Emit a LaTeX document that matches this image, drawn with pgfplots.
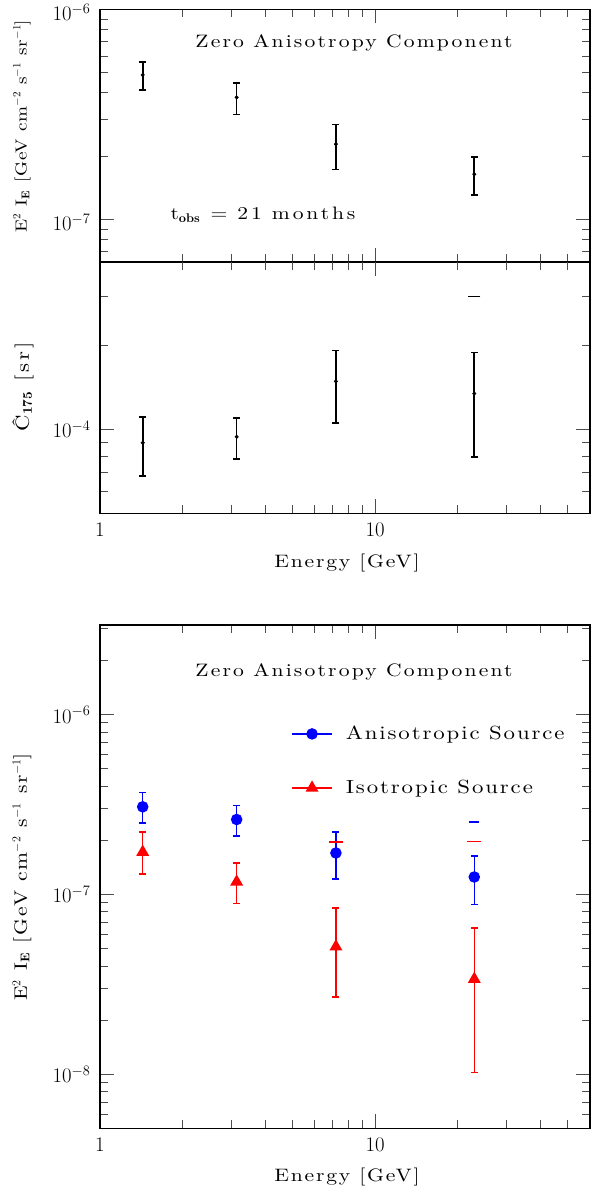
\documentclass[border=0pt]{standalone}
\usepackage{fontspec}
\setmainfont{lmroman10-regular.otf}[BoldFont=lmroman10-bold.otf, ItalicFont=lmroman10-italic.otf]
\usepackage{pgfplots}
\pgfplotsset{compat=1.18}
\newcommand\fs[2]{\fontsize{#1}{#1}\selectfont\addfontfeatures{FakeStretch=1.2, LetterSpace=#2}}

\pgfplotsset{
  every axis/.append style={
    scale only axis, width=490pt, anchor=south west,
    xmin=1, xmax=60.5,
    clip=false,
    axis line style={line width=1.3pt},
    tick style={line width=0.8pt, black!70},
    major tick length=14pt, minor tick length=8pt,
    tick align=inside,
    xtick={1,10},
    minor xtick={2,3,4,5,6,7,8,9,20,30,40,50,60},
    ticklabel style={font=\fontsize{20}{20}\selectfont},
    xticklabel style={yshift=-6pt},
    yticklabel style={xshift=-6pt},
  },
}

\begin{document}
\begin{tikzpicture}
\useasboundingbox (0,0) rectangle (593pt,-1194pt);

% top: intensity
\begin{loglogaxis}[at={(100pt,-262pt)}, height=252.7pt,
  ymin=6.26e-8, ymax=1e-6,
  ytick={1e-7,1e-6},
  minor ytick={7e-8,8e-8,9e-8,2e-7,3e-7,4e-7,5e-7,6e-7,7e-7,8e-7,9e-7},
  xticklabels={,,},
  yticklabel style={yshift=-3pt},
]
\addplot[black, only marks, mark=*, mark size=1.8pt,
  error bars/y dir=both, error bars/y explicit,
  error bars/error bar style={line width=1.6pt},
  error bars/error mark options={rotate=90, mark size=3.5pt, line width=1.6pt}]
coordinates {
  (1.43,4.87e-7) +- (0,0.75e-7)
  (3.14,3.81e-7) +- (0,0.65e-7)
  (7.21,2.28e-7) +- (0,0.55e-7)
  (22.96,1.64e-7) +- (0,0.335e-7)
};
\end{loglogaxis}

% middle: C_175
\begin{loglogaxis}[at={(100pt,-513.3pt)}, height=251.6pt,
  ymin=5e-5, ymax=4e-4,
  ytick={1e-4},
  minor ytick={6e-5,7e-5,8e-5,9e-5,2e-4,3e-4},
  xticklabels={$1$,$10$},
]
\addplot[black, only marks, mark=*, mark size=1.8pt,
  error bars/y dir=both, error bars/y explicit,
  error bars/error bar style={line width=1.6pt},
  error bars/error mark options={rotate=90, mark size=3.5pt, line width=1.6pt}]
coordinates {
  (1.43,8.96e-5) +- (0,2.15e-5)
  (3.14,9.41e-5) +- (0,1.56e-5)
  (7.21,1.488e-4) +- (0,4.32e-5)
  (22.96,1.345e-4) +- (0,5.47e-5)
};
\addplot[black, only marks, mark=-, mark size=6pt, mark options={line width=1.6pt}]
  coordinates {(22.96,3e-4)};
\end{loglogaxis}

% bottom: two sources
\begin{loglogaxis}[at={(100pt,-1128.3pt)}, height=503.3pt,
  ymin=5e-9, ymax=3.15e-6,
  ytick={1e-8,1e-7,1e-6},
  minor ytick={6e-9,7e-9,8e-9,9e-9,2e-8,3e-8,4e-8,5e-8,6e-8,7e-8,8e-8,9e-8,
               2e-7,3e-7,4e-7,5e-7,6e-7,7e-7,8e-7,9e-7,2e-6,3e-6},
  xticklabels={$1$,$10$},
  legend style={draw=none, fill=none, at={(0.39,0.803)}, anchor=north west,
    font=\fs{19}{10}, row sep=35pt, inner sep=0pt,
    /tikz/every odd column/.append style={column sep=11pt}},
  legend cell align=left,
  legend image code/.code={\draw[mark repeat=2,mark phase=2,#1,sharp plot]
    plot coordinates {(0pt,0pt) (20pt,0pt) (40pt,0pt)};},
]
\addplot[blue, only marks, line width=1.5pt, mark=*, mark size=5pt,
  error bars/y dir=both, error bars/y explicit,
  error bars/error bar style={line width=1.5pt},
  error bars/error mark options={rotate=90, mark size=3.5pt, line width=1.5pt}]
coordinates {
  (1.43,3.07e-7) += (0,0.62e-7) -= (0,0.57e-7)
  (3.14,2.61e-7) += (0,0.51e-7) -= (0,0.50e-7)
  (7.21,1.70e-7) += (0,0.52e-7) -= (0,0.48e-7)
  (22.96,1.25e-7) += (0,0.39e-7) -= (0,0.37e-7)
};
\addlegendentry{Anisotropic Source}
\addplot[red, only marks, line width=1.5pt, mark=triangle*, mark size=6pt,
  error bars/y dir=both, error bars/y explicit,
  error bars/error bar style={line width=1.5pt},
  error bars/error mark options={rotate=90, mark size=3.5pt, line width=1.5pt}]
coordinates {
  (1.43,1.72e-7) += (0,0.51e-7) -= (0,0.42e-7)
  (3.14,1.175e-7) += (0,0.325e-7) -= (0,0.284e-7)
  (7.21,5.12e-8) += (0,3.31e-8) -= (0,2.43e-8)
  (22.96,3.38e-8) += (0,3.14e-8) -= (0,2.36e-8)
};
\addlegendentry{Isotropic Source}
\addplot[blue, only marks, forget plot, mark=-, mark size=5pt, mark options={line width=1.6pt}]
  coordinates {(22.96,2.52e-7)};
\addplot[red, only marks, forget plot, mark=-, mark size=7pt, mark options={line width=1.6pt}]
  coordinates {(7.21,1.96e-7) (22.96,1.97e-7)};
\end{loglogaxis}

% texts
\node[font=\fs{18}{12}] at (354pt,-43pt) {Zero Anisotropy Component};
\node[font=\fs{18}{16}] at (263pt,-215pt) {t$_{\mathbf{obs}}$ = 21 months};
\node[font=\fs{18}{12}] at (354pt,-672pt) {Zero Anisotropy Component};
\node[font=\fs{18}{10}] at (347pt,-563pt) {Energy [GeV]};
\node[font=\fs{18}{10}] at (347pt,-1177pt) {Energy [GeV]};
\node[font=\fs{16}{5}, rotate=90] at (22pt,-126pt) {E$^2$ I$_{\mathbf{E}}$ [GeV cm$^{-2}$ s$^{-1}$ sr$^{-1}$]};
\node[font=\fs{19}{14}, rotate=90] at (23pt,-387pt) {Ĉ$_{\mathbf{175}}$ [sr]};
\node[font=\fs{18}{11}, rotate=90] at (22pt,-877pt) {E$^2$ I$_{\mathbf{E}}$ [GeV cm$^{-2}$ s$^{-1}$ sr$^{-1}$]};
\end{tikzpicture}
\end{document}
